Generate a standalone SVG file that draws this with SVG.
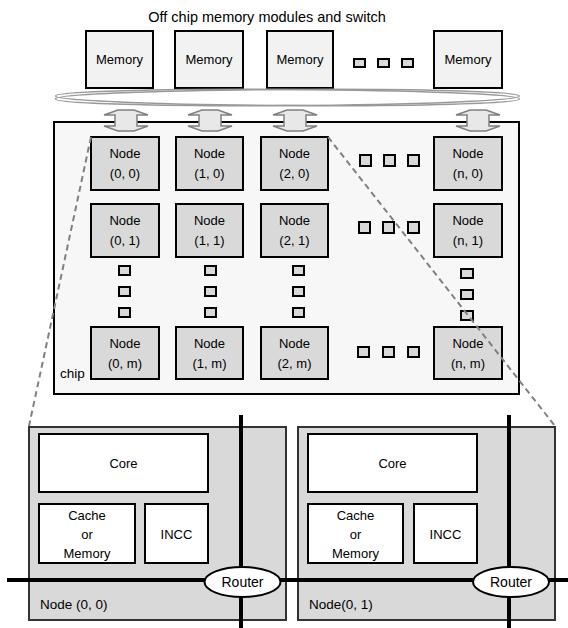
<svg xmlns="http://www.w3.org/2000/svg" width="568" height="628" viewBox="0 0 568 628">
<style>
text{font-family:"Liberation Sans",Arial,sans-serif;font-size:13px;fill:#000;text-anchor:middle}
.mem{fill:#f2f2f2;stroke:#000;stroke-width:2}
.node{fill:#d9d9d9;stroke:#000;stroke-width:2}
.dot{fill:#d9d9d9;stroke:#000;stroke-width:2}
.arr{fill:#e8e8e8;stroke:#808080;stroke-width:1.5}
.sub{fill:#fff;stroke:#000;stroke-width:2}
.big{fill:#d9d9d9;stroke:#333;stroke-width:2}
.bus{stroke:#000;stroke-width:4;fill:none}
.dash{stroke:#808080;stroke-width:2;stroke-dasharray:6 4;fill:none}
</style>
<rect width="568" height="628" fill="#fff"/>
<text x="267" y="22" style="font-size:14.5px">Off chip memory modules and switch</text>
<g id="memory1"><rect class="mem" x="86" y="31" width="67" height="57"/><text x="119.5" y="64">Memory</text></g>
<g id="memory2"><rect class="mem" x="175" y="31" width="68" height="57"/><text x="209" y="64">Memory</text></g>
<g id="memory3"><rect class="mem" x="267" y="31" width="66" height="57"/><text x="300" y="64">Memory</text></g>
<g id="memory4"><rect class="mem" x="434" y="31" width="68" height="57"/><text x="468" y="64">Memory</text></g>
<g id="memdots">
<rect class="dot" x="354" y="59" width="11" height="8"/><rect class="dot" x="378" y="59" width="11" height="8"/><rect class="dot" x="402" y="59" width="11" height="8"/>
</g>
<g id="switch">
<ellipse cx="287.5" cy="97.5" rx="232" ry="8" fill="none" stroke="#999" stroke-width="1.5" transform="rotate(0.35 287.5 97.5)"/>
<ellipse cx="287.5" cy="97.5" rx="232" ry="8" fill="none" stroke="#999" stroke-width="1.5" transform="rotate(-0.35 287.5 97.5)"/>
</g>
<g id="chip">
<rect x="54" y="122" width="465" height="272" fill="#f7f7f7" stroke="#000" stroke-width="2"/>
<text x="60" y="378" style="text-anchor:start;font-size:13.5px">chip</text>
</g>
<g id="links">
<polygon class="arr" points="118,110 134,110 148,115 137,115 137,126 148,126 134,131 118,131 104,126 115,126 115,115 104,115"/>
<polygon class="arr" points="202,110 218,110 232,115 221,115 221,126 232,126 218,131 202,131 188,126 199,126 199,115 188,115"/>
<polygon class="arr" points="287,110 303,110 317,115 306,115 306,126 317,126 303,131 287,131 273,126 284,126 284,115 273,115"/>
<polygon class="arr" points="470,110 486,110 500,115 489,115 489,126 500,126 486,131 470,131 456,126 467,126 467,115 456,115"/>
</g>
<g id="node00"><rect class="node" x="91" y="137" width="68" height="53"/><text x="125" y="158">Node</text><text x="125" y="178">(0, 0)</text></g>
<g id="node10"><rect class="node" x="176" y="137" width="67" height="53"/><text x="209.5" y="158">Node</text><text x="209.5" y="178">(1, 0)</text></g>
<g id="node20"><rect class="node" x="261" y="137" width="67" height="53"/><text x="294.5" y="158">Node</text><text x="294.5" y="178">(2, 0)</text></g>
<g id="noden0"><rect class="node" x="434" y="137" width="68" height="53"/><text x="468" y="158">Node</text><text x="468" y="178">(n, 0)</text></g>
<g id="node01"><rect class="node" x="91" y="204" width="68" height="53"/><text x="125" y="225">Node</text><text x="125" y="245">(0, 1)</text></g>
<g id="node11"><rect class="node" x="176" y="204" width="67" height="53"/><text x="209.5" y="225">Node</text><text x="209.5" y="245">(1, 1)</text></g>
<g id="node21"><rect class="node" x="261" y="204" width="67" height="53"/><text x="294.5" y="225">Node</text><text x="294.5" y="245">(2, 1)</text></g>
<g id="noden1"><rect class="node" x="434" y="204" width="68" height="53"/><text x="468" y="225">Node</text><text x="468" y="245">(n, 1)</text></g>
<g id="node0m"><rect class="node" x="91" y="327" width="68" height="52"/><text x="125" y="348">Node</text><text x="125" y="368">(0, m)</text></g>
<g id="node1m"><rect class="node" x="176" y="327" width="67" height="52"/><text x="209.5" y="348">Node</text><text x="209.5" y="368">(1, m)</text></g>
<g id="node2m"><rect class="node" x="261" y="327" width="67" height="52"/><text x="294.5" y="348">Node</text><text x="294.5" y="368">(2, m)</text></g>
<g id="nodenm"><rect class="node" x="434" y="327" width="68" height="52"/><text x="468" y="348">Node</text><text x="468" y="368">(n, m)</text></g>
<g id="griddots">
<rect class="dot" x="360" y="155" width="11" height="11"/><rect class="dot" x="384" y="155" width="11" height="11"/><rect class="dot" x="408" y="155" width="11" height="11"/>
<rect class="dot" x="359" y="222" width="11" height="11"/><rect class="dot" x="383" y="222" width="11" height="11"/><rect class="dot" x="408" y="222" width="11" height="11"/>
<rect class="dot" x="358" y="347" width="11" height="10"/><rect class="dot" x="383" y="347" width="11" height="10"/><rect class="dot" x="408" y="347" width="11" height="10"/>
<rect class="dot" x="119" y="266" width="11" height="9"/><rect class="dot" x="119" y="287" width="11" height="9"/><rect class="dot" x="119" y="308" width="11" height="9"/>
<rect class="dot" x="205" y="266" width="11" height="9"/><rect class="dot" x="205" y="287" width="11" height="9"/><rect class="dot" x="205" y="308" width="11" height="9"/>
<rect class="dot" x="293" y="266" width="11" height="9"/><rect class="dot" x="293" y="287" width="11" height="9"/><rect class="dot" x="293" y="308" width="11" height="9"/>
<rect class="dot" x="461" y="269" width="12" height="9"/><rect class="dot" x="461" y="290" width="12" height="9"/><rect class="dot" x="461" y="311" width="12" height="9"/>
</g>
<g id="zoomlines">
<line class="dash" x1="91" y1="137" x2="29" y2="426"/>
<line class="dash" x1="328" y1="137" x2="555" y2="426"/>
</g>
<g id="detail00">
<rect class="big" x="29" y="427" width="257" height="193"/>
<rect class="sub" x="39" y="434" width="169" height="58"/><text x="123.5" y="468">Core</text>
<rect class="sub" x="39" y="504" width="96" height="59"/><text x="87" y="520">Cache</text><text x="87" y="539">or</text><text x="87" y="558">Memory</text>
<rect class="sub" x="145" y="504" width="63" height="59"/><text x="176.5" y="539">INCC</text>
<text x="40" y="609" style="text-anchor:start;font-size:13.5px">Node (0, 0)</text>
</g>
<g id="detail01">
<rect class="big" x="298" y="427" width="257" height="193"/>
<rect class="sub" x="308" y="434" width="169" height="58"/><text x="392.5" y="468">Core</text>
<rect class="sub" x="308" y="504" width="95" height="59"/><text x="355.5" y="520">Cache</text><text x="355.5" y="539">or</text><text x="355.5" y="558">Memory</text>
<rect class="sub" x="414" y="504" width="63" height="59"/><text x="445.5" y="539">INCC</text>
<text x="309" y="609" style="text-anchor:start;font-size:13.5px">Node(0, 1)</text>
</g>
<g id="buses">
<line class="bus" x1="7" y1="580" x2="568" y2="580"/>
<line class="bus" x1="241" y1="415" x2="241" y2="628"/>
<line class="bus" x1="509" y1="415" x2="509" y2="628"/>
</g>
<g id="router00"><ellipse cx="242.5" cy="582" rx="38" ry="15" fill="#fff" stroke="#000" stroke-width="2"/><text x="242.5" y="587" style="font-size:14px">Router</text></g>
<g id="router01"><ellipse cx="511" cy="582" rx="38" ry="15" fill="#fff" stroke="#000" stroke-width="2"/><text x="511" y="587" style="font-size:14px">Router</text></g>
</svg>
